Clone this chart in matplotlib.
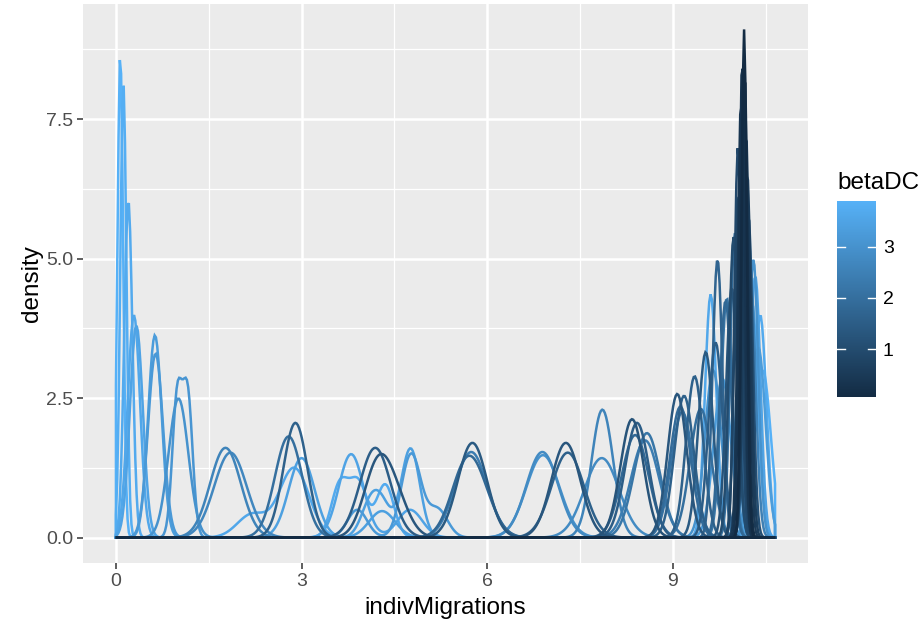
import numpy as np
import matplotlib
matplotlib.use("Agg")
import matplotlib.pyplot as plt
from matplotlib.colors import LinearSegmentedColormap, Normalize
from matplotlib.cm import ScalarMappable

plt.rcParams['font.family'] = ['Liberation Sans', 'DejaVu Sans']

# one density curve per run: its betaDC, the migration values and the kernel width
beta_dc = [
    3.90, 3.80, 3.70, 3.60, 3.50, 3.30, 3.20, 3.10, 3.00,
    2.60, 2.70, 1.60, 2.00, 3.40, 3.60,
    3.50, 3.70, 1.50, 1.30, 3.40, 3.20,
    1.40, 2.40, 1.80, 2.80, 3.00, 1.30, 1.60, 2.60, 2.80,
    1.20, 1.50, 1.80, 2.20, 2.40,
    1.30, 1.60, 1.90, 2.10, 1.60, 2.00,
    1.40, 3.60, 1.70, 1.50, 3.30, 1.80, 2.20, 3.00,
    1.00, 2.00, 0.80, 0.30, 0.06, 0.20, 0.50, 0.60, 0.40, 1.10, 0.90, 1.20,
    3.50, 3.70, 3.00, 3.90, 2.50, 3.30, 3.80,
]
migration_samples = [
    [0.07], [0.12], [0.20], [0.29], [0.33], [0.63], [0.64], [0.99, 1.16], [1.01],
    [1.77], [1.85], [2.90], [2.79], [3.00, 3.00, 3.00, 4.30], [2.88, 2.88, 2.88, 2.20],
    [3.80, 3.80, 3.80, 4.75], [3.62, 3.92, 4.35], [4.19], [4.22, 4.22, 4.52],
    [4.76, 4.76, 4.76, 4.30, 4.10], [4.77, 4.77, 4.77, 3.90, 5.20],
    [5.76], [5.74], [5.64, 5.64, 5.90], [6.89], [6.90], [7.27], [7.30], [7.86], [7.85],
    [8.34], [8.42], [8.39], [8.58], [8.55],
    [9.07], [9.18], [9.12], [9.15], [9.35], [9.45],
    [9.53], [9.61], [9.72], [9.69], [9.80], [9.85], [9.87], [9.65],
    [9.98], [10.00], [10.06], [10.12], [10.15], [10.16], [10.18], [10.20], [10.10], [10.22], [10.05], [9.95],
    [10.33], [10.41], [10.30], [10.45], [10.25], [10.38], [10.28],
]
bandwidth = [
    0.046, 0.049, 0.066, 0.100, 0.105, 0.110, 0.121, 0.080, 0.160,
    0.248, 0.262, 0.194, 0.220, 0.210, 0.240,
    0.200, 0.140, 0.248, 0.220, 0.150, 0.160,
    0.235, 0.260, 0.240, 0.260, 0.270, 0.235, 0.262, 0.174, 0.280,
    0.188, 0.194, 0.217, 0.213, 0.229,
    0.155, 0.157, 0.170, 0.177, 0.138, 0.173,
    0.120, 0.0915, 0.080, 0.114, 0.140, 0.094, 0.093, 0.133,
    0.074, 0.073, 0.065, 0.0466, 0.0438, 0.0478, 0.055, 0.061, 0.051, 0.069, 0.057, 0.089,
    0.085, 0.100, 0.080, 0.133, 0.083, 0.117, 0.095,
]

x_min, x_max = 0.0, 10.65
x_ticks = [0, 3, 6, 9]
y_ticks = [0.0, 2.5, 5.0, 7.5]

grid = np.linspace(x_min, x_max, 512)


def density(samples, bw):
    s = np.asarray(samples)[:, None]
    k = np.exp(-0.5 * ((grid[None, :] - s) / bw) ** 2) / (bw * np.sqrt(2 * np.pi))
    return k.mean(axis=0)


cmap = LinearSegmentedColormap.from_list("gg", ["#132B43", "#56B1F7"])
norm = Normalize(vmin=min(beta_dc), vmax=max(beta_dc))

W, H = 924, 624
fig = plt.figure(figsize=(W / 100, H / 100), dpi=100)
ax = fig.add_axes([83 / W, (H - 563) / H, (808 - 83) / W, (563 - 4) / H])
ax.set_facecolor("#EBEBEB")

curves = [density(s, b) for s, b in zip(migration_samples, bandwidth)]
ymax = max(c.max() for c in curves)

# light runs first so the dark ones end up on top
order = np.argsort(beta_dc)[::-1]
for i in order:
    xs = np.concatenate([[x_min], grid, [x_max]])
    ys = np.concatenate([[0], curves[i], [0]])
    ax.fill(xs, ys, facecolor="none", edgecolor=cmap(norm(beta_dc[i])), lw=1.8, zorder=3)

dx = 0.05 * (x_max - x_min)
ax.set_xlim(x_min - dx, x_max + dx)
ax.set_ylim(-0.05 * ymax, 1.05 * ymax)

ax.set_xticks(x_ticks)
ax.set_xticks([1.5, 4.5, 7.5, 10.5], minor=True)
ax.set_yticks(y_ticks)
ax.set_yticks([1.25, 3.75, 6.25, 8.75], minor=True)
ax.set_yticklabels([f"{v:.1f}" for v in y_ticks])
ax.grid(which="major", color="white", lw=1.8, zorder=0)
ax.grid(which="minor", color="white", lw=0.9, zorder=0)
ax.set_axisbelow(True)
for sp in ax.spines.values():
    sp.set_visible(False)
ax.tick_params(which="major", length=4, width=1.1, color="#333333",
               labelcolor="#4D4D4D", labelsize=14, pad=3)
ax.tick_params(which="minor", length=0)

ax.set_xlabel("indivMigrations", fontsize=17.5, labelpad=5)
ax.set_ylabel("density", fontsize=17.5, labelpad=2)

# colour bar legend
cax = fig.add_axes([837 / W, (H - 397) / H, 39 / W, 196 / H])
cb = fig.colorbar(ScalarMappable(norm=norm, cmap=cmap), cax=cax)
cb.outline.set_visible(False)
cb.set_ticks([1, 2, 3])
cax.tick_params(length=0, labelsize=14, pad=5)
for v in [1, 2, 3]:
    cax.axhline(v, 0, 0.2, color="white", lw=1)
    cax.axhline(v, 0.8, 1, color="white", lw=1)
fig.text(837 / W, (H - 183) / H, "betaDC", fontsize=17.5, ha="left", va="center")

fig.savefig("out.png", dpi=100)
